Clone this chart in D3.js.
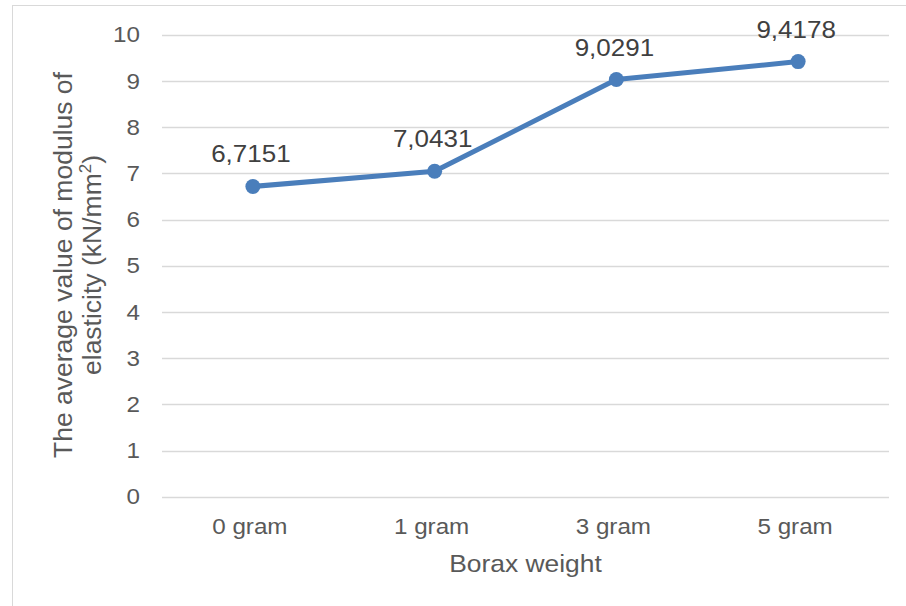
<!DOCTYPE html>
<html><head><meta charset="utf-8">
<script src="https://cdn.jsdelivr.net/npm/d3@7"></script>
<style>body{margin:0;background:#fff;} svg{display:block;font-family:"Liberation Sans",Arial,sans-serif;}</style>
</head><body>
<svg id="c" width="906" height="606"></svg>
<script>
const categories = ["0 gram", "1 gram", "3 gram", "5 gram"];
const values = [6.7151, 7.0431, 9.0291, 9.4178];
const valueLabels = ["6,7151", "7,0431", "9,0291", "9,4178"];
const yTicks = [0,1,2,3,4,5,6,7,8,9,10];

const svg = d3.select("#c");
const m = {left:162, right:889, top:34.7, bottom:496.7};
const x = d3.scaleBand().domain(categories).range([m.left, m.right]);
const y = d3.scaleLinear().domain([0,10]).range([m.bottom, m.top]);
const txt = "#595959";
const SX = 1.1;
const cx = c => x(c) + x.bandwidth()/2;

svg.append("rect").attr("x",12.5).attr("y",5.5).attr("width",1000).attr("height",1000)
  .attr("fill","none").attr("stroke","#d9d9d9").attr("stroke-width",1);

// gridlines
svg.append("g").selectAll("line").data(yTicks).join("line")
  .attr("x1",m.left).attr("x2",m.right)
  .attr("y1",d=>Math.round(y(d))+0.5).attr("y2",d=>Math.round(y(d))+0.5)
  .attr("stroke","#d9d9d9").attr("stroke-width",1.5);

// y tick labels
svg.append("g").selectAll("text").data(yTicks).join("text")
  .attr("transform",d=>`translate(140,${y(d)}) scale(${SX},1)`).attr("dy","0.35em")
  .attr("text-anchor","end").attr("fill",txt).attr("font-size",22)
  .text(d=>d);

// x labels
svg.append("g").selectAll("text").data(categories).join("text")
  .attr("transform",d=>`translate(${cx(d)-3},533.5) scale(${SX},1)`)
  .attr("text-anchor","middle").attr("fill",txt).attr("font-size",22)
  .text(d=>d);

// axis titles
svg.append("text").attr("transform",`translate(${(m.left+m.right)/2},572) scale(${SX},1)`)
  .attr("text-anchor","middle").attr("fill",txt).attr("font-size",24).text("Borax weight");

const yt = svg.append("text").attr("transform","translate(0,265) rotate(-90)")
  .attr("text-anchor","middle").attr("fill",txt).attr("font-size",26.5);
yt.append("tspan").attr("x",0).attr("y",72).text("The average value of modulus of");
const t2 = yt.append("tspan").attr("x",0).attr("y",101);
t2.append("tspan").text("elasticity (kN/mm");
t2.append("tspan").attr("font-size",17).attr("dy",-10).text("2");
t2.append("tspan").attr("dy",10).text(")");

// line
const pts = categories.map((c,i)=>({c, v:values[i], l:valueLabels[i]}));
svg.append("path").datum(pts)
  .attr("d", d3.line().x(d=>cx(d.c)).y(d=>y(d.v)))
  .attr("fill","none").attr("stroke","#4a7ebb").attr("stroke-width",5).attr("stroke-linejoin","round");

svg.append("g").selectAll("circle").data(pts).join("circle")
  .attr("cx",d=>cx(d.c)).attr("cy",d=>y(d.v)).attr("r",7.5)
  .attr("fill","#4a7ebb");

svg.append("g").selectAll("text").data(pts).join("text")
  .attr("transform",d=>`translate(${cx(d.c)-2},${y(d.v)-24}) scale(1.13,1)`)
  .attr("text-anchor","middle").attr("fill","#404040").attr("font-size",23)
  .text(d=>d.l);
</script>
</body></html>
